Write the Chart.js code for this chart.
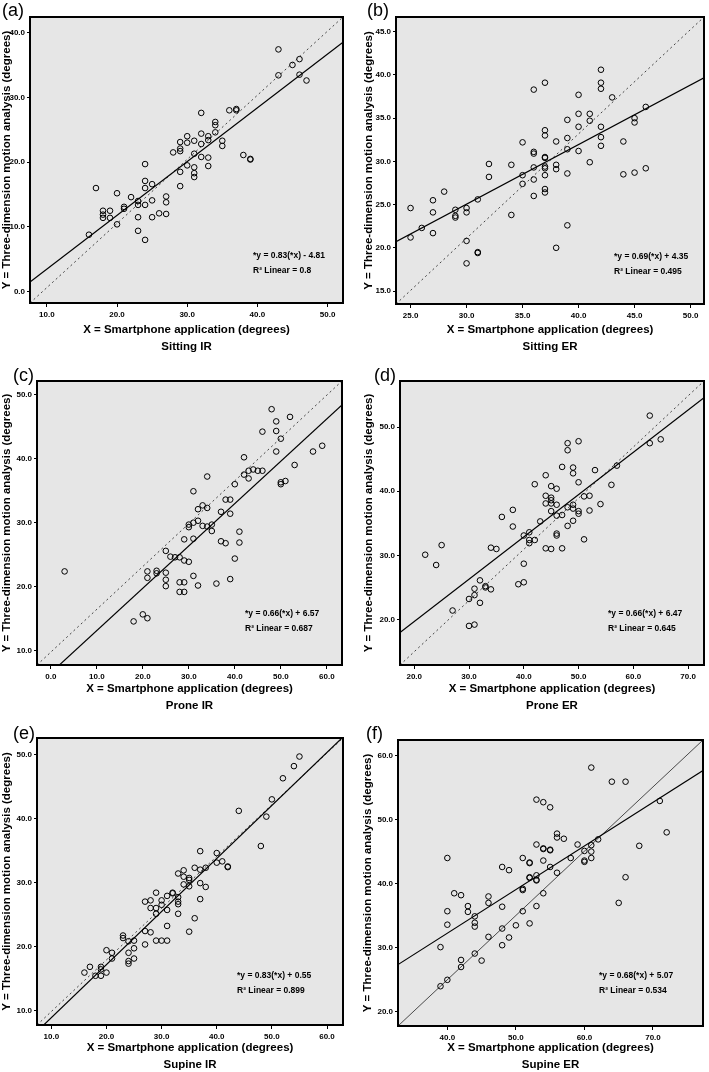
<!DOCTYPE html>
<html>
<head>
<meta charset="utf-8">
<script src="https://cdn.jsdelivr.net/npm/chart.js@4.4.0/dist/chart.umd.min.js"></script>
<style>
body { margin: 0; background: #fff; font-family: "Liberation Sans", Arial, sans-serif; }
#fig { position: relative; width: 709px; height: 1072px; overflow: hidden; }
.panel { position: absolute; }
.tag { position: absolute; font-size: 18px; line-height: 18px; color: #000; }
</style>
</head>
<body>
<div id="fig"></div>
<script>
////////////////////// DATA //////////////////////
var panelTags = ["(a)", "(b)", "(c)", "(d)", "(e)", "(f)"];
var positions = ["Sitting IR", "Sitting ER", "Prone IR", "Prone ER", "Supine IR", "Supine ER"];
var slopes = [0.83, 0.69, 0.66, 0.66, 0.83, 0.68];
var intercepts = [-4.81, 4.35, 6.57, 6.47, 0.55, 5.07];
var r2Values = ["0.8", "0.495", "0.687", "0.645", "0.899", "0.534"];

var xTicks = [[10,20,30,40,50], [25,30,35,40,45,50], [0,10,20,30,40,50,60], [20,30,40,50,60,70], [10,20,30,40,50,60], [40,50,60,70]];
var yTicks = [[0,10,20,30,40], [15,20,25,30,35,40,45], [10,20,30,40,50], [20,30,40,50], [10,20,30,40,50], [20,30,40,50,60]];

// smartphone (x) vs three-dimension motion analysis (y)
var sitIrX = [16,17,18,18,18,19,19,20,20,21,21,22,23,23,23,23,24,24,24,24,24,25,25,25,26,27,27,27,28,29,29,29,29,29,30,30,30,31,31,31,31,31,32,32,32,32,33,33,33,33,34,34,34,35,35,36,37,37,38,39,39,43,43,45,46,46,47];
var sitIrY = [8.8,16.0,12.5,11.9,11.4,12.5,11.4,15.2,10.4,13.1,12.8,14.6,14.0,13.4,11.5,9.4,19.7,17.1,16.0,13.4,8.0,16.6,14.1,11.5,12.1,14.7,13.8,12.0,21.5,23.1,22.1,21.7,18.5,16.3,24.0,23.0,19.5,23.3,21.3,19.2,18.3,17.7,27.6,24.4,22.8,20.8,24.0,23.4,20.7,19.4,26.2,25.7,24.6,23.3,22.5,28.0,28.2,28.0,21.1,20.5,20.4,37.4,33.4,35.0,35.9,33.5,32.6];

var sitErX = [25,25,26,27,27,27,28,29,29,29,30,30,30,30,31,31,31,32,32,34,34,35,35,35,36,36,36,36,36,36,37,37,37,37,37,37,37,37,37,37,38,38,38,38,39,39,39,39,39,40,40,40,40,41,41,41,42,42,42,42,42,42,43,44,44,45,45,45,46,46];
var sitErY = [24.6,21.2,22.3,25.5,24.1,21.7,26.5,24.4,23.7,23.5,24.6,24.1,20.8,18.2,25.6,19.5,19.4,29.7,28.2,29.6,23.8,32.2,28.4,27.4,38.3,31.1,30.9,29.3,27.9,26.0,39.1,33.6,33.0,30.5,30.4,29.4,29.2,28.4,26.8,26.4,32.3,29.6,29.1,20.0,34.8,32.7,31.4,28.6,22.6,37.7,35.5,34.0,31.2,35.5,34.7,29.9,40.6,39.1,38.4,34.0,32.8,31.8,37.4,32.3,28.5,35.0,34.5,28.7,36.3,29.2];

var proIrX = [3,18,20,21,21,21,23,23,25,25,25,25,26,27,28,28,28,29,29,29,29,30,30,30,31,31,31,31,32,32,32,33,33,34,34,34,35,35,36,37,37,38,38,39,39,39,40,40,41,41,42,42,43,43,44,45,46,46,48,49,49,49,50,50,50,51,52,53,57,59];
var proIrY = [22.4,14.6,15.7,15.1,22.4,21.4,22.5,22.1,25.6,22.2,21.1,20.1,24.7,24.6,24.6,20.7,19.2,27.4,24.1,20.7,19.2,29.7,29.3,23.9,34.9,30.0,27.5,21.7,32.1,30.3,20.2,32.7,29.5,37.2,32.3,29.4,29.7,28.7,20.5,31.7,27.1,33.6,26.8,33.6,31.4,21.2,36.0,24.4,28.6,26.9,40.2,37.5,38.1,36.9,38.3,38.1,44.2,38.1,47.7,45.8,44.3,41.1,43.1,36.3,36.0,36.5,46.5,39.0,41.1,42.0];

var proErX = [22,24,25,27,30,30,31,31,31,32,32,33,33,34,34,35,36,38,38,39,40,40,40,41,41,41,42,42,43,44,44,44,44,45,45,45,45,45,45,46,46,46,46,46,47,47,47,48,48,48,48,49,49,49,49,49,50,50,50,50,51,51,52,52,53,54,56,57,63,63,65];
var proErY = [30.1,28.5,31.6,21.4,23.2,19.0,24.8,23.8,19.2,26.1,22.6,25.2,25.0,31.2,24.7,31.0,36.0,37.1,34.5,25.5,33.1,28.7,25.8,33.6,32.4,31.9,41.1,32.4,35.3,42.5,39.3,38.1,31.1,40.8,39.0,38.6,38.1,36.9,31.0,40.4,37.9,36.2,33.4,33.1,43.8,36.3,31.1,47.5,46.4,37.5,34.6,43.7,42.8,37.9,37.3,35.4,47.8,41.4,36.9,36.5,39.2,32.5,39.3,37.0,43.3,38.0,41.0,44.0,51.8,47.5,48.1];

var supIrX = [16,17,18,19,19,19,20,20,21,21,23,23,24,24,24,24,25,25,25,27,27,27,28,28,28,29,29,29,29,30,30,30,31,31,31,31,32,32,33,33,33,33,33,34,34,34,35,35,35,35,36,36,37,37,37,37,38,38,40,40,41,42,42,44,48,49,50,52,54,55];
var supIrY = [15.9,16.8,15.4,16.8,16.4,15.4,19.4,15.9,19.0,18.1,21.7,21.3,20.8,19.0,17.7,17.3,20.9,19.7,18.1,27.0,22.4,20.3,27.2,26.0,22.2,28.4,26.0,25.1,20.9,27.2,26.5,20.9,27.9,25.7,23.2,20.9,28.4,28.3,31.4,27.7,27.0,26.6,25.1,31.9,30.9,29.7,30.7,30.4,29.4,22.3,32.3,24.4,34.9,32.0,29.9,27.4,32.3,29.3,34.6,33.1,33.3,32.4,32.5,41.2,35.7,40.3,43.0,46.3,48.2,49.7];

var supErX = [39,39,40,40,40,40,41,42,42,42,43,43,44,44,44,44,45,46,46,46,48,48,48,48,49,49,50,51,51,51,51,52,52,52,52,52,53,53,53,53,53,53,54,54,54,54,54,55,55,55,55,56,56,56,57,58,59,60,60,60,61,61,61,61,62,64,65,66,66,68,71,72];
var supErY = [30.1,24.0,44.0,35.7,33.6,25.0,38.5,38.2,28.1,27.0,36.5,35.6,34.9,33.9,33.3,29.1,28.0,38.0,37.0,31.7,42.6,36.4,33.0,30.4,42.1,31.6,33.5,44.0,39.2,39.0,35.7,43.3,43.2,41.0,40.9,33.8,53.1,46.1,41.3,40.6,40.5,36.5,52.7,45.5,45.4,43.6,38.5,51.9,45.3,45.2,42.6,47.8,47.2,41.7,47.0,44.0,46.1,45.1,43.6,43.4,58.1,46.0,45.0,44.0,46.9,55.9,37.0,55.9,41.0,45.9,52.9,48.0];

var xValues = [sitIrX, sitErX, proIrX, proErX, supIrX, supErX];
var yValues = [sitIrY, sitErY, proIrY, proErY, supIrY, supErY];

////////////////////// LAYOUT //////////////////////
// box: page left, top, width, height; area: chart area inside the box (l, t, r, b)
var layouts = [
	{box:[0,0,354,357],     area:[30,17,343,303], xr:[7.6,52.2],  yr:[-1.74,42.4], yPad:0.3, xPad:1.5, eq:[223,47], tag:[2,1],     dash:true},
	{box:[354,0,355,357],   area:[42,17,352,304], xr:[23.7,51.2], yr:[13.5,46.7],  yPad:8,   xPad:1.5, eq:[218,47], tag:[367,1],   dash:true},
	{box:[0,357,354,360],   area:[37,24,342,308], xr:[-3.0,63.3], yr:[7.8,52.1],   yPad:0.3, xPad:2.5, eq:[208,51], tag:[13,366],  dash:true},
	{box:[354,357,355,360], area:[46,24,350,308], xr:[17.4,72.9], yr:[12.9,57.2],  yPad:8,   xPad:2.5, eq:[208,51], tag:[374,366], dash:true},
	{box:[0,714,354,360],   area:[37,24,343,311], xr:[7.4,62.9],  yr:[7.7,52.6],   yPad:0.3, xPad:0.5, eq:[200,49], tag:[13,724],  dash:true},
	{box:[354,714,355,360], area:[44,26,349,312], xr:[32.8,77.3], yr:[17.8,62.4],  yPad:7,   xPad:0.5, eq:[201,50], tag:[366,724], dash:false}
];

Chart.defaults.font.family = '"Liberation Sans", Arial, Helvetica, sans-serif';
Chart.defaults.color = '#000';

var fig = document.getElementById('fig');

function fmt(v)
{
	return v.toFixed(1);
}

function drawPanel(i)
{
	var L = layouts[i];
	var bx = L.box[0], by = L.box[1], bw = L.box[2], bh = L.box[3];
	var al = L.area[0], at = L.area[1], ar = L.area[2], ab = L.area[3];

	var div = document.createElement('div');
	div.className = 'panel';
	div.style.left = bx + 'px';
	div.style.top = by + 'px';
	var cv = document.createElement('canvas');
	cv.width = bw;
	cv.height = bh;
	div.appendChild(cv);
	fig.appendChild(div);

	var tag = document.createElement('div');
	tag.className = 'tag';
	tag.textContent = panelTags[i];
	tag.style.left = L.tag[0] + 'px';
	tag.style.top = L.tag[1] + 'px';
	fig.appendChild(tag);

	var xs = xValues[i], ys = yValues[i];
	var pts = xs.map(function(x, k){ return {x: x, y: ys[k]}; });
	var x0 = L.xr[0], x1 = L.xr[1], y0 = L.yr[0], y1 = L.yr[1];
	var fitLine = [{x: x0, y: slopes[i] * x0 + intercepts[i]}, {x: x1, y: slopes[i] * x1 + intercepts[i]}];
	var diag = [{x: x0, y: y0}, {x: x1, y: y1}];

	var b = intercepts[i];
	var eqText = '*y = ' + slopes[i].toFixed(2) + '(*x) ' + (b < 0 ? '- ' : '+ ') + Math.abs(b).toFixed(2);
	var r2Text = 'R\u00b2 Linear = ' + r2Values[i];

	var framePlugin = {
		id: 'frame' + i,
		beforeDraw: function(c)
		{
			var a = c.chartArea, ctx = c.ctx;
			ctx.save();
			ctx.fillStyle = '#e6e6e6';
			ctx.fillRect(a.left, a.top, a.right - a.left, a.bottom - a.top);
			ctx.restore();
		},
		afterDraw: function(c)
		{
			var a = c.chartArea, ctx = c.ctx;
			ctx.save();
			ctx.lineWidth = 2;
			ctx.strokeStyle = '#000';
			ctx.strokeRect(a.left, a.top, a.right - a.left, a.bottom - a.top);
			ctx.font = 'bold 8.5px "Liberation Sans", Arial, sans-serif';
			ctx.fillStyle = '#000';
			ctx.textBaseline = 'middle';
			ctx.textAlign = 'left';
			ctx.fillText(eqText, a.left + L.eq[0], a.bottom - L.eq[1]);
			ctx.fillText(r2Text, a.left + L.eq[0], a.bottom - L.eq[1] + 15);
			ctx.restore();
		}
	};

	new Chart(cv, {
		type: 'scatter',
		data: {
			datasets: [
				{
					label: positions[i],
					data: pts,
					pointStyle: 'circle',
					pointRadius: 2.8,
					pointBorderWidth: 1,
					borderColor: '#000',
					backgroundColor: 'rgba(0,0,0,0)'
				},
				{
					label: 'fit',
					data: fitLine,
					showLine: true,
					pointRadius: 0,
					borderColor: '#000',
					borderWidth: 1.2
				},
				{
					label: 'reference',
					data: diag,
					showLine: true,
					pointRadius: 0,
					borderColor: L.dash ? '#444' : '#222',
					borderWidth: L.dash ? 1 : 0.8,
					borderDash: L.dash ? [2, 3] : []
				}
			]
		},
		options: {
			responsive: false,
			animation: false,
			devicePixelRatio: 1,
			events: [],
			layout: { padding: { left: 0, top: at, right: bw - ar, bottom: 0 } },
			plugins: {
				legend: { display: false },
				tooltip: { enabled: false }
			},
			scales: {
				x: {
					type: 'linear',
					min: x0,
					max: x1,
					afterBuildTicks: function(s){ s.ticks = xTicks[i].map(function(v){ return {value: v}; }); },
					afterFit: function(s){ s.height = bh - ab; s.paddingLeft = 0; s.paddingRight = 0; },
					ticks: { callback: fmt, font: { size: 8, weight: 'bold' }, color: '#000', padding: 3, maxRotation: 0, autoSkip: false },
					grid: { drawOnChartArea: false, drawTicks: true, tickLength: 4, color: '#000', lineWidth: 1 },
					border: { display: false },
					title: {
						display: true,
						text: ['X = Smartphone application (degrees)', positions[i]],
						font: { size: 11.5, weight: 'bold', lineHeight: '17px' },
						color: '#000',
						padding: { top: 0, bottom: L.xPad }
					}
				},
				y: {
					type: 'linear',
					min: y0,
					max: y1,
					afterBuildTicks: function(s){ s.ticks = yTicks[i].map(function(v){ return {value: v}; }); },
					afterFit: function(s){ s.width = al; s.paddingTop = 0; s.paddingBottom = 0; },
					ticks: { callback: fmt, font: { size: 8, weight: 'bold' }, color: '#000', padding: 2, autoSkip: false },
					grid: { drawOnChartArea: false, drawTicks: true, tickLength: 3, color: '#000', lineWidth: 1 },
					border: { display: false },
					title: {
						display: true,
						text: 'Y = Three-dimension motion analysis (degrees)',
						font: { size: 11.5, weight: 'bold', lineHeight: '14px' },
						color: '#000',
						padding: { top: L.yPad, bottom: 0 }
					}
				}
			}
		},
		plugins: [framePlugin]
	});
}

for (var i = 0; i < positions.length; i++)
{
	drawPanel(i);
}
</script>
</body>
</html>
